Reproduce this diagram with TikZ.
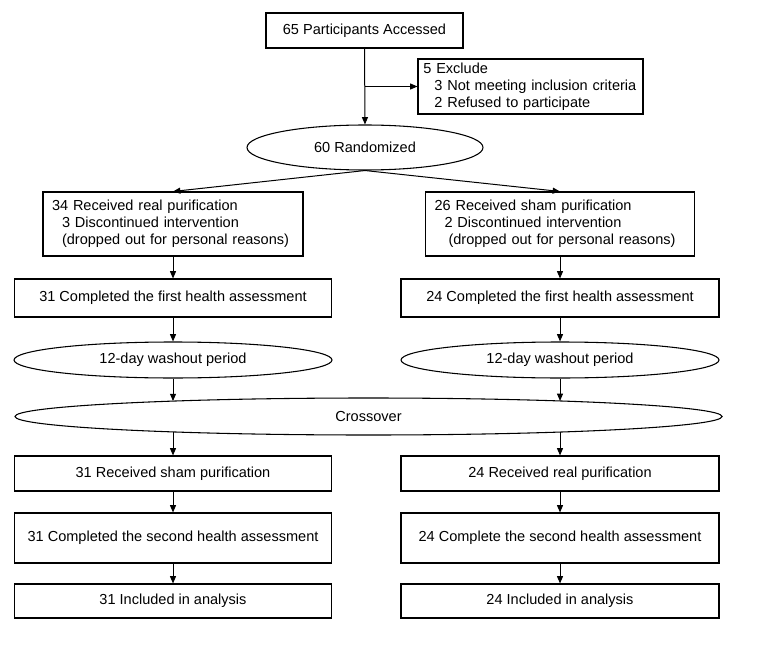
\documentclass[tikz,border=0pt]{standalone}
\usepackage{fontspec}
\setmainfont{Liberation Sans}
\usetikzlibrary{shapes.geometric, arrows.meta}
\begin{document}
\begin{tikzpicture}[
    x=0.75pt, y=-0.75pt,
    box/.style={rectangle, draw, line width=0.8pt, inner sep=0pt, align=center, font=\fontsize{10.9}{12.8}\selectfont},
    listbox/.style={box, align=left, inner xsep=6.75pt},
    oval/.style={ellipse, draw, line width=0.8pt, inner sep=0pt, font=\fontsize{10.9}{12.8}\selectfont},
    arrow/.style={-{Triangle[length=5.5pt, width=4.5pt]}, line width=0.75pt}
]
    \useasboundingbox (0,0) rectangle (759,645);

    \node (accessed) at (364.5, 30.5) [box, minimum width=147.75pt, minimum height=26.25pt] {65 Participants Accessed};
    \node (exclude) at (530.5, 86.5) [listbox, inner xsep=4pt, text width=160.75pt, minimum height=41.25pt] {5 Exclude\\ \hspace*{8.25pt}3 Not meeting inclusion criteria\\ \hspace*{8.25pt}2 Refused to participate};

    \node (random) at (365, 147.5) [oval, minimum width=177pt, minimum height=33.75pt] {60 Randomized};

    \node (recvL) at (173, 224) [listbox, text width=181.5pt, minimum height=48pt] {34 Received real purification\\ \hspace*{7.5pt}3 Discontinued intervention\\ \hspace*{7.5pt}(dropped out for personal reasons)};
    \node (recvR) at (560, 224) [listbox, text width=188.25pt, minimum height=48pt] {26 Received sham purification\\ \hspace*{7.5pt}2 Discontinued intervention\\ \hspace*{10.5pt}(dropped out for personal reasons)};

    \node (firstL) at (173, 298) [box, minimum width=237.75pt, minimum height=28.5pt] {31 Completed the first health assessment};
    \node (firstR) at (560, 298) [box, minimum width=238.5pt, minimum height=28.5pt] {24 Completed the first health assessment};

    \node (washL) at (173, 360) [oval, minimum width=238.5pt, minimum height=27pt] {12-day washout period};
    \node (washR) at (560, 360) [oval, minimum width=238.5pt, minimum height=27pt] {12-day washout period};

    \node (cross) at (368.5, 416.5) [oval, minimum width=530.25pt, minimum height=27.75pt] {Crossover};
    % points on the crossover rim above and below the two columns
    \path (cross.center) ++(-195.5,-15.4) coordinate (crossNW);
    \path (cross.center) ++(191.5,-15.55) coordinate (crossNE);
    \path (cross.center) ++(-195.5,15.4) coordinate (crossSW);
    \path (cross.center) ++(191.5,15.55) coordinate (crossSE);

    \node (swapL) at (173, 473.5) [box, minimum width=237.75pt, minimum height=26.25pt] {31 Received sham purification};
    \node (swapR) at (560, 473.5) [box, minimum width=238.5pt, minimum height=26.25pt] {24 Received real purification};

    \node (secondL) at (173, 538) [box, minimum width=237.75pt, minimum height=37.5pt] {31 Completed the second health assessment};
    \node (secondR) at (560, 538) [box, minimum width=238.5pt, minimum height=37.5pt] {24 Complete the second health assessment};

    \node (analL) at (173, 601) [box, minimum width=237.75pt, minimum height=25.5pt] {31 Included in analysis};
    \node (analR) at (560, 601) [box, minimum width=238.5pt, minimum height=25.5pt] {24 Included in analysis};

    \draw[arrow] (accessed.south) -- (random.north);
    \draw[arrow] (accessed.south |- exclude.west) -- (exclude.west);

    \draw[arrow] (random.south) -- (recvL.north);
    \draw[arrow] (random.south) -- (recvR.north);

    \draw[arrow] (recvL.south) -- (firstL.north);
    \draw[arrow] (recvR.south) -- (firstR.north);
    \draw[arrow] (firstL.south) -- (washL.north);
    \draw[arrow] (firstR.south) -- (washR.north);

    \draw[arrow] (washL.south) -- (crossNW);
    \draw[arrow] (washR.south) -- (crossNE);
    \draw[arrow] (crossSW) -- (swapL.north);
    \draw[arrow] (crossSE) -- (swapR.north);

    \draw[arrow] (swapL.south) -- (secondL.north);
    \draw[arrow] (swapR.south) -- (secondR.north);
    \draw[arrow] (secondL.south) -- (analL.north);
    \draw[arrow] (secondR.south) -- (analR.north);

\end{tikzpicture}
\end{document}
